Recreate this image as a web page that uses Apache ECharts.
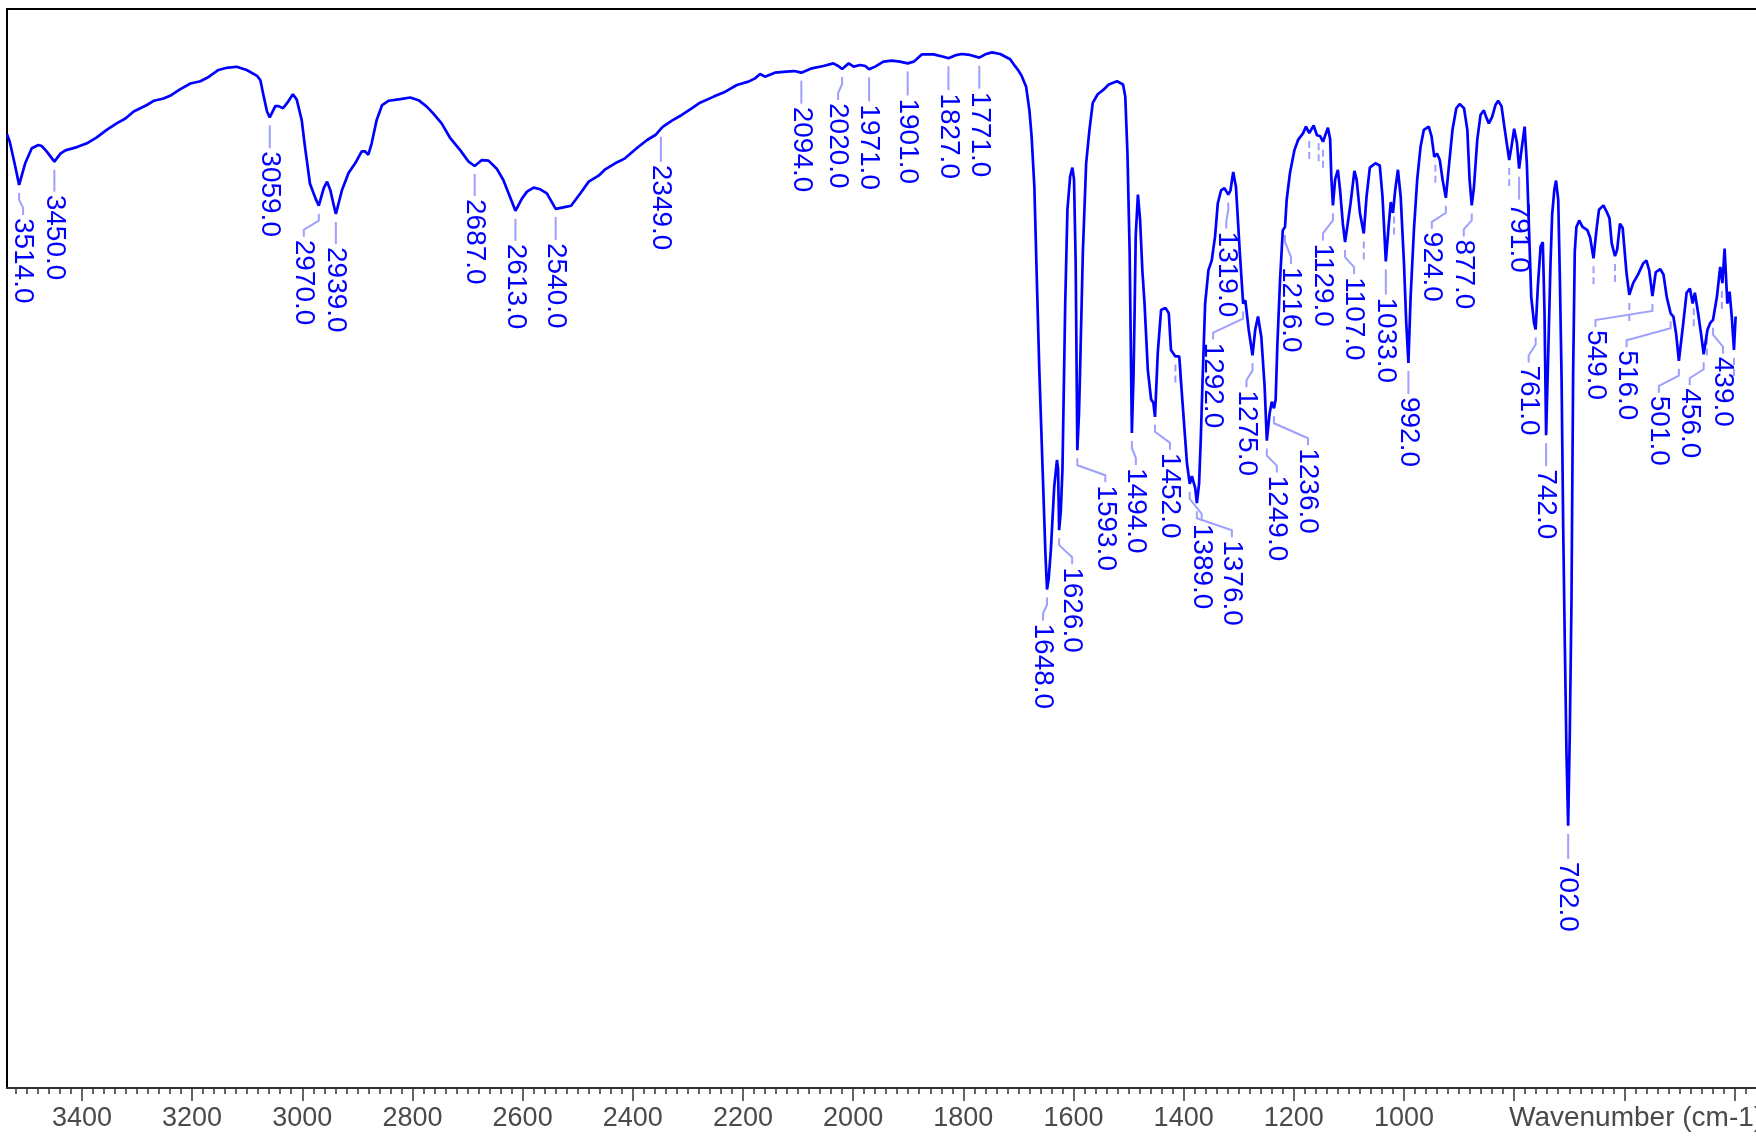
<!DOCTYPE html>
<html>
<head>
<meta charset="utf-8">
<script src="https://cdn.jsdelivr.net/npm/echarts@6/dist/echarts.min.js"></script>
<style>
html,body{margin:0;padding:0;background:#ffffff;}
#chart{width:1756px;height:1138px;}
</style>
</head>
<body>
<div id="chart"></div>
<script>
// ---------- DATA ----------
// IR spectrum: [wavenumber (cm-1), transmittance (%)]
const spectrumPoints = [
[3536,88.4],[3531,87.7],[3521,85.4],[3514,83.7],[3503,85.7],[3491,87.1],[3479,87.4],[3473,87.3],[3464,86.8],[3450,85.85],
[3439,86.6],[3430,86.9],[3409,87.2],[3391,87.55],[3373,88.1],[3355,88.8],[3337,89.4],[3321,89.85],[3306,90.5],[3294,90.8],
[3282,91.1],[3269,91.5],[3252,91.7],[3240,91.95],[3222,92.55],[3203,93.1],[3185,93.3],[3170,93.7],[3152,94.35],[3137,94.55],
[3119,94.65],[3101,94.35],[3082,93.8],[3076,93.4],[3070,91.9],[3064,90.5],[3059,89.96],[3049,91.0],[3043,91.0],[3035,90.8],
[3028,91.25],[3017,92.1],[3010,91.6],[3001,89.7],[2995,87.2],[2986,83.8],[2976,82.45],[2970,81.77],[2961,83.4],[2955,84.0],
[2949,83.2],[2943,81.85],[2939,81.0],[2928,83.2],[2916,84.8],[2904,85.7],[2892,86.8],[2886,86.8],[2880,86.5],[2874,87.55],
[2865,89.7],[2855,91.1],[2843,91.5],[2822,91.65],[2804,91.8],[2789,91.55],[2774,90.95],[2762,90.3],[2747,89.4],[2731,88.0],
[2713,86.9],[2698,85.85],[2687,85.45],[2674,86.0],[2662,85.95],[2647,85.2],[2635,84.15],[2623,82.6],[2613,81.3],[2601,82.45],
[2592,83.07],[2580,83.44],[2568,83.29],[2556,82.92],[2540,81.47],[2526,81.62],[2512,81.77],[2495,82.92],[2480,84.0],[2462,84.55],
[2450,85.14],[2432,85.7],[2414,86.16],[2393,87.09],[2374,87.86],[2359,88.32],[2349,88.9],[2345,89.1],[2329,89.65],[2311,90.18],
[2293,90.79],[2278,91.32],[2253,91.88],[2232,92.34],[2211,92.96],[2190,93.27],[2178,93.57],[2169,93.98],[2160,93.73],[2142,94.1],
[2121,94.19],[2107,94.25],[2094,94.1],[2075,94.5],[2054,94.72],[2036,94.96],[2027,94.72],[2020,94.44],[2008,94.96],[1999,94.66],
[1987,94.81],[1978,94.72],[1971,94.41],[1960,94.66],[1945,95.12],[1930,95.21],[1915,95.12],[1901,94.96],[1890,95.12],[1875,95.8],
[1854,95.8],[1836,95.58],[1827,95.43],[1815,95.7],[1803,95.83],[1788,95.74],[1771,95.49],[1760,95.8],[1748,95.98],[1733,95.83],
[1715,95.34],[1706,94.7],[1700,94.3],[1694,93.8],[1686,92.8],[1680,90.6],[1676,88.2],[1671,83.5],[1667,75.8],[1662,66.5],
[1656,57.3],[1651,49.6],[1648,46.2],[1645,47.2],[1641,49.9],[1635,55.7],[1630,58.2],[1628,57.4],[1626,51.7],[1623,53.5],
[1620,57.3],[1615,72.7],[1611,81.4],[1606,84.5],[1602,85.3],[1599,84.2],[1596,76.5],[1593,59.1],[1590,62.5],[1588,66.5],
[1583,77.4],[1577,85.7],[1571,88.8],[1565,91.3],[1556,92.1],[1546,92.5],[1536,93.0],[1521,93.3],[1510,93.0],[1506,91.9],
[1502,86.6],[1498,77.4],[1496,69.0],[1494,60.7],[1491,66.0],[1489,72.0],[1487,79.0],[1483,82.8],[1479,80.4],[1475,75.8],
[1471,72.7],[1465,66.5],[1459,63.8],[1455,63.5],[1452,62.2],[1447,68.1],[1441,72.1],[1433,72.3],[1427,71.8],[1423,68.4],
[1415,67.8],[1408,67.8],[1402,63.5],[1394,57.9],[1389,56.0],[1385,56.7],[1379,55.6],[1376,54.2],[1372,56.0],[1369,60.0],
[1366,65.0],[1361,72.7],[1355,75.8],[1349,76.7],[1343,78.9],[1338,82.0],[1332,83.2],[1326,83.4],[1319,82.8],[1315,83.2],
[1310,84.9],[1305,83.5],[1298,77.4],[1292,72.7],[1288,73.0],[1282,70.3],[1275,67.9],[1270,70.3],[1265,71.5],[1259,69.6],
[1253,65.0],[1249,60.0],[1244,62.5],[1240,63.6],[1236,63.0],[1233,63.8],[1230,68.7],[1225,74.9],[1220,79.5],[1216,79.8],
[1213,82.3],[1207,84.8],[1199,86.9],[1192,87.9],[1183,88.5],[1178,89.1],[1172,88.5],[1164,89.2],[1158,88.3],[1152,88.2],
[1147,87.7],[1143,88.3],[1138,89.0],[1134,87.9],[1132,84.5],[1129,81.8],[1125,84.2],[1120,85.1],[1116,83.2],[1111,80.1],
[1107,78.4],[1103,79.8],[1097,82.0],[1090,85.0],[1086,84.2],[1080,81.1],[1073,79.2],[1068,82.6],[1062,85.3],[1052,85.7],
[1044,85.5],[1039,82.6],[1033,76.6],[1028,79.8],[1024,82.1],[1020,81.1],[1016,83.2],[1011,85.1],[1006,82.6],[1000,76.4],
[996,71.0],[992,67.2],[988,73.3],[982,79.5],[976,84.2],[970,87.2],[964,88.8],[955,89.1],[950,88.2],[945,86.3],
[940,86.6],[935,86.0],[930,84.2],[924,82.5],[918,85.7],[912,88.8],[905,90.8],[899,91.2],[891,90.8],[885,88.8],
[881,84.2],[877,81.8],[873,83.5],[867,87.9],[861,90.2],[855,90.6],[851,90.0],[846,89.4],[840,90.0],[834,91.1],
[829,91.5],[823,91.0],[817,88.8],[809,86.0],[805,87.2],[800,88.9],[795,87.6],[791,85.2],[786,87.2],[781,89.1],
[777,85.7],[773,79.5],[769,73.3],[764,70.9],[761,70.3],[757,74.3],[752,78.0],[748,78.4],[745,72.1],[742,60.5],
[738,68.4],[734,76.5],[731,81.0],[727,83.3],[724,84.1],[720,82.3],[717,75.0],[714,66.0],[711,52.0],[708,41.0],
[705,31.0],[702,24.3],[699,33.0],[696,45.0],[693,66.0],[690,77.5],[687,79.8],[682,80.4],[676,79.8],[667,79.5],
[662,78.8],[656,76.9],[650,79.8],[646,81.4],[638,81.8],[632,81.2],[627,80.6],[623,78.3],[617,77.1],[613,77.7],
[608,80.1],[603,79.7],[596,75.5],[591,73.5],[584,74.6],[575,75.4],[566,76.4],[560,76.7],[555,75.8],[549,73.4],
[543,75.6],[535,75.9],[529,75.4],[523,73.3],[516,71.8],[511,71.5],[506,69.9],[501,67.4],[493,70.9],[487,73.7],
[481,74.1],[476,72.7],[472,73.7],[466,71.8],[460,69.6],[456,68.0],[449,70.3],[444,70.9],[439,71.2],[432,73.3],
[426,76.1],[422,74.6],[418,77.8],[413,72.7],[409,73.8],[405,71.5],[401,68.4],[398,71.5]
];

// Labelled peaks
const peakWavenumbers = [3514,3450,3059,2970,2939,2687,2613,2540,2349,2094,2020,1971,1901,1827,1771,
  1648,1626,1593,1494,1452,1389,1376,1319,1292,1275,1249,1236,1216,1129,1107,1033,992,924,877,791,761,742,702,
  549,516,501,456,439];
const peakTransmittance = [83.7,85.85,89.96,81.77,81.0,85.45,81.3,81.47,88.9,94.1,94.44,94.41,94.96,95.43,95.49,
  46.2,51.7,59.1,60.7,62.2,56.0,54.2,82.8,72.7,67.9,60.0,63.0,79.8,81.8,78.4,76.6,67.2,82.5,81.8,85.2,70.3,60.5,24.3,
  73.4,71.8,67.4,68.0,71.2];

// Peaks marked only by a short dashed stub (no text)
const stubWavenumbers = [1415,1406,1172,1155,1147,1073,1018,943,809,656,617,591,474,450,423,401];
const stubTransmittance = [67.8,67.8,88.5,88.3,87.7,79.2,81.5,86.3,86.0,76.9,77.1,73.5,73.0,70.3,74.6,68.4];

// Axis ticks / labels
const tickLabelValues = [1000,1200,1400,1600,1800,2000,2200,2400,2600,2800,3000,3200,3400];
const majorTickValues = [400,600,800,1000,1200,1400,1600,1800,2000,2200,2400,2600,2800,3000,3200,3400];
const axisTitle = 'Wavenumber (cm-1)';

// ---------- LAYOUT (pixels, kept apart from data) ----------
// [horizontal shift of the label from its peak, distance from peak to label start]
const labelLayout = [[4,33],[0,33],[0,34],[-15,34],[0,33],[0,33],[0,33],[0,34],[0,36],[0,34],[-4,34],[0,35],[0,35],[0,35],[0,34],
  [-4,34],[13,37],[28,35],[4,35],[15,36],[12,40],[35,37],[-2,37],[-30,39],[-6,35],[10,35],[34,40],[6,40],[-10,38],[9,35],[0,36],[0,34],
  [-14,34],[-8,34],[0,34],[-7,36],[0,34],[0,36],
  [-57,34],[-44,37],[-20,35],[-14,34],[10,37]];

const X_MIN = 361, X_MAX = 3536;
const FONT = '"Liberation Sans", Arial, Helvetica, sans-serif';
const minorTickValues = [];
for (let v = 380; v <= 3520; v += 20) minorTickValues.push(v);

const chart = echarts.init(document.getElementById('chart'), null, {renderer: 'canvas', width: 1756, height: 1138});

function hiddenAxisBase() {
  return {
    type: 'value', inverse: true, min: X_MIN, max: X_MAX,
    splitLine: {show: false}, axisLabel: {show: false}, axisTick: {show: false},
    axisLine: {show: false}
  };
}

const option = {
  animation: false,
  backgroundColor: '#ffffff',
  grid: {left: 7, right: 0, top: 9, bottom: 50, containLabel: false},
  xAxis: [
    {
      type: 'value', inverse: true, min: X_MIN, max: X_MAX, position: 'bottom',
      splitLine: {show: false},
      axisLine: {show: true, onZero: false, lineStyle: {color: '#333333', width: 2}},
      axisTick: {show: true, customValues: majorTickValues, length: 13, lineStyle: {color: '#333333', width: 1.5}},
      axisLabel: {show: true, customValues: tickLabelValues, margin: 17, color: '#4a4a4a', fontSize: 27, fontFamily: FONT,
        formatter: function (v) { return String(v); }}
    },
    Object.assign(hiddenAxisBase(), {
      position: 'bottom',
      axisTick: {show: true, customValues: minorTickValues, length: 6, lineStyle: {color: '#333333', width: 1.5}}
    }),
    Object.assign(hiddenAxisBase(), {
      position: 'top',
      axisLine: {show: true, onZero: false, lineStyle: {color: '#000000', width: 2}}
    })
  ],
  yAxis: {
    type: 'value', min: 0, max: 100, position: 'left',
    splitLine: {show: false}, axisLabel: {show: false}, axisTick: {show: false},
    axisLine: {show: true, onZero: false, lineStyle: {color: '#000000', width: 2}}
  },
  graphic: [{
    type: 'text', left: 1509, top: 1104, silent: true,
    style: {text: axisTitle, fill: '#4a4a4a', font: '28px ' + FONT}
  }],
  series: [
    {
      type: 'custom', name: 'stubs', xAxisIndex: 0, yAxisIndex: 0, z: 2, clip: false,
      data: stubWavenumbers.map((w, i) => [w, stubTransmittance[i]]),
      encode: {x: 0, y: 1},
      renderItem: function (params, api) {
        const p = api.coord([api.value(0), api.value(1)]);
        return {
          type: 'line',
          shape: {x1: p[0], y1: p[1] + 8, x2: p[0], y2: p[1] + 27},
          style: {stroke: '#9f9fff', lineWidth: 2, lineDash: [7, 4]}
        };
      }
    },
    {
      type: 'line', name: 'spectrum', xAxisIndex: 0, yAxisIndex: 0, z: 3,
      data: spectrumPoints, showSymbol: false, symbol: 'none', smooth: false,
      lineStyle: {color: '#0000ff', width: 2.7}
    },
    {
      type: 'custom', name: 'peaks', xAxisIndex: 0, yAxisIndex: 0, z: 4, clip: false,
      data: peakWavenumbers.map((w, i) => [w, peakTransmittance[i]]),
      encode: {x: 0, y: 1},
      renderItem: function (params, api) {
        const i = params.dataIndex;
        const wn = api.value(0);
        const p = api.coord([wn, api.value(1)]);
        const lay = labelLayout[i];
        const lx = p[0] + lay[0];
        const top = p[1] + lay[1];
        let pts;
        if (Math.abs(lay[0]) < 1) {
          pts = [[p[0], p[1] + 8], [p[0], top - 3]];
        } else {
          pts = [[p[0], p[1] + 8], [p[0], p[1] + 15], [lx, top - 10], [lx, top - 3]];
        }
        return {
          type: 'group',
          children: [
            {type: 'polyline', shape: {points: pts}, style: {stroke: '#9f9fff', lineWidth: 2, fill: null}},
            {
              type: 'text', x: lx, y: top, rotation: -Math.PI / 2,
              style: {
                text: wn.toFixed(1), fill: '#0000ff', font: '28px ' + FONT,
                align: 'left', verticalAlign: 'middle', textAlign: 'left', textVerticalAlign: 'middle'
              }
            }
          ]
        };
      }
    }
  ]
};
chart.setOption(option);
</script>
</body>
</html>
